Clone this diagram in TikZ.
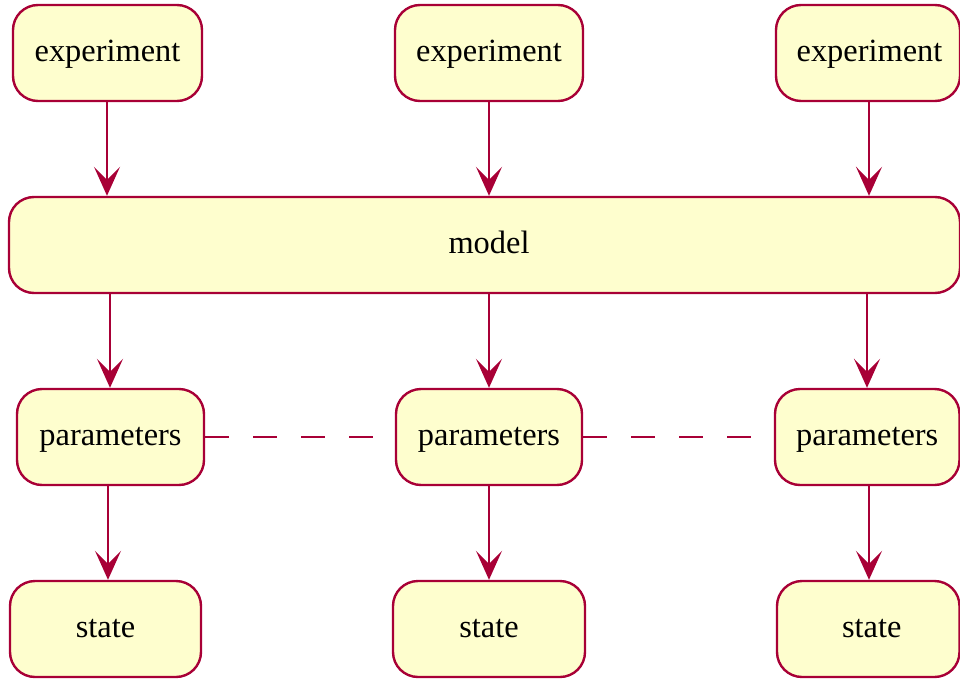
\documentclass[tikz,border=0pt]{standalone}
\usepackage{fontspec}
\setmainfont{Liberation Serif}
\usetikzlibrary{arrows.meta}
\definecolor{umlfill}{HTML}{FEFECE}
\definecolor{umlline}{HTML}{A80036}
\begin{document}
\begin{tikzpicture}[x=1pt,y=-1pt,
  box/.style={draw=umlline, fill=umlfill, line width=2.4pt, rounded corners=25pt,
    minimum height=96pt, inner sep=0pt, text height=25pt, text depth=8pt,
    font=\fontsize{32.4}{38}\selectfont},
  arr/.style={draw=umlline, line width=2.4pt, -{Stealth[length=29pt,width=26pt,inset=13pt]}},
  dashline/.style={draw=umlline, line width=2.4pt, dash pattern=on 24pt off 24pt}]
\useasboundingbox (0,0) rectangle (960,679);
\node[box, minimum width=189pt] (e1) at (107.5,53) {experiment};
\node[box, minimum width=188pt] (e2) at (489,53) {experiment};
\node[box, minimum width=184pt] (e3) at (868,53) {\hspace*{3pt}experiment};
\node[box, minimum width=951pt] (m) at (484.5,245) {\hspace*{9pt}model};
\node[box, minimum width=187pt] (p1) at (110.5,437) {parameters};
\node[box, minimum width=186pt] (p2) at (489,437) {parameters};
\node[box, minimum width=184.5pt] (p3) at (867.25,437) {parameters};
\node[box, minimum width=191pt] (s1) at (105.5,629) {state};
\node[box, minimum width=192pt] (s2) at (489,629) {state};
\node[box, minimum width=182.5pt] (s3) at (868.25,629) {\hspace*{7pt}state};
\draw[arr] (e1.south -| 107,0) -- (m.north -| 107,0);
\draw[arr] (e2.south) -- (m.north -| e2);
\draw[arr] (e3.south -| 869,0) -- (m.north -| 869,0);
\draw[arr] (m.south -| 110,0) -- (p1.north -| 110,0);
\draw[arr] (m.south -| p2) -- (p2.north);
\draw[arr] (m.south -| 867,0) -- (p3.north -| 867,0);
\draw[arr] (p1.south -| 108,0) -- (s1.north -| 108,0);
\draw[arr] (p2.south) -- (s2.north);
\draw[arr] (p3.south -| 869,0) -- (s3.north -| 869,0);
\draw[dashline] (p1.east) -- (p2.west);
\draw[dashline] (p2.east) -- (p3.west);
\end{tikzpicture}
\end{document}
